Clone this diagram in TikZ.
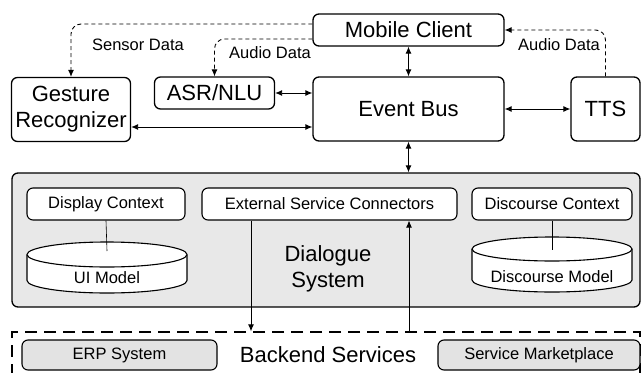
\documentclass[tikz,border=0pt]{standalone}
\usepackage{fontspec}
\setmainfont{Liberation Sans}
\usetikzlibrary{arrows.meta}

\begin{document}
\begin{tikzpicture}[x=1pt, y=-1pt,
    >={Latex[length=7pt,width=6pt]},
    box/.style={draw, line width=1.3pt, rounded corners=6pt, fill=white, align=center, inner sep=0pt, font=\fontsize{22}{26}\selectfont},
    part/.style={draw, line width=1.1pt, rounded corners=6pt, fill=white, inner sep=0pt, font=\fontsize{16.5}{18}\selectfont},
    store/.style={draw, line width=1.1pt, fill=white},
    flow/.style={dash pattern=on 4pt off 3pt, line width=0.9pt, rounded corners=10pt},
    lbl/.style={inner sep=0pt, font=\fontsize{16.5}{18}\selectfont}]
    \useasboundingbox (0, 0) rectangle (642, 372);

    % backend and dialogue system
    \node[draw, dash pattern=on 12pt off 7pt, line width=1.3pt, minimum width=628pt, minimum height=80pt] (BS) at (326, 372) {};
    \node[draw, line width=1.3pt, rounded corners=6pt, fill=gray!18, minimum width=628pt, minimum height=134pt] (DS) at (326, 240) {};
    \node[align=center, inner sep=0pt, font=\fontsize{22}{26}\selectfont] (DSL) at (328, 269) {Dialogue\\System};

    \node[box, minimum width=191pt, minimum height=32pt] (MC) at (408.5, 30) {Mobile Client};
    \node[box, minimum width=191pt, minimum height=64pt] (EB) at (408.5, 109) {Event Bus};
    \node[box, minimum width=69pt, minimum height=64pt] (TTS) at (605.5, 109) {TTS};
    \node[box, minimum width=119pt, minimum height=64pt] (GR) at (71, 109.5) {Gesture\\Recognizer};
    \node[box, minimum width=120pt, minimum height=32pt] (AN) at (214.5, 93) {ASR/NLU};

    \node[part, minimum width=158pt, minimum height=32pt] (DC) at (106, 204) {Display Context};
    \node[part, minimum width=255pt, minimum height=32pt] (ESC) at (329.5, 204) {External Service Connectors};
    \node[part, minimum width=160pt, minimum height=32pt] (DCX) at (552, 204) {Discourse Context};

    % the two model stores
    \draw[store] (27, 254.5) -- (27, 280.5) arc[start angle=180, end angle=360, x radius=80pt, y radius=12.5pt]
        -- (187, 254.5) arc[start angle=0, end angle=180, x radius=80pt, y radius=12.5pt] -- cycle;
    \draw[store] (27, 254.5) arc[start angle=180, end angle=360, x radius=80pt, y radius=12.5pt];
    \draw[store] (472, 249) -- (472, 280) arc[start angle=180, end angle=360, x radius=80pt, y radius=12pt]
        -- (632, 249) arc[start angle=0, end angle=180, x radius=80pt, y radius=12pt] -- cycle;
    \draw[store] (472, 249) arc[start angle=180, end angle=360, x radius=80pt, y radius=12pt];
    \node[lbl] (UM) at (107, 278) {UI Model};
    \node[lbl] (DM) at (552, 277) {Discourse Model};
    \coordinate (UMT) at (107, 251);
    \coordinate (DMT) at (552, 250);

    \node[part, fill=gray!22, minimum width=195pt, minimum height=30pt] (ERP) at (119.5, 355) {ERP System};
    \node[part, fill=gray!22, minimum width=202pt, minimum height=30pt] (SM) at (539, 355) {Service Marketplace};
    \node[inner sep=0pt, font=\fontsize{22}{26}\selectfont] (BSL) at (328, 355) {Backend Services};

    % data flows to and from the client
    \draw[flow, ->] ([yshift=6pt]MC.west) -| (GR.north);
    \draw[flow, ->] ([yshift=-9pt]MC.west) -| (AN.north);
    \draw[flow, ->] (TTS.north) |- (MC.east);
    \node[lbl] (SD) at (138, 45) {Sensor Data};
    \node[lbl] (AD1) at (270, 53) {Audio Data};
    \node[lbl] (AD2) at (559, 45) {Audio Data};

    \draw[line width=0.9pt, <->] (AN.east) -- (AN.east -| EB.west);
    \draw[line width=0.9pt, <->] ([yshift=-17.5pt]GR.east) -- ([yshift=-17.5pt]GR.east -| EB.west);
    \draw[line width=0.9pt, <->] (EB.east) -- (TTS.west);
    \draw[line width=0.9pt, <->] (MC.south) -- (EB.north);
    \draw[line width=0.9pt, <->] (EB.south) -- (EB.south |- DS.north);

    \draw[line width=0.6pt] (DC.south) -- (UMT);
    \draw[line width=0.6pt] (DCX.south) -- (DMT);
    \draw[line width=0.9pt, ->] ([xshift=-78.5pt]ESC.south) -- ([xshift=-78.5pt]ESC.south |- BS.north);
    \draw[line width=0.9pt, ->] ([xshift=79.5pt]ESC.south |- BS.north) -- ([xshift=79.5pt]ESC.south);
\end{tikzpicture}
\end{document}
